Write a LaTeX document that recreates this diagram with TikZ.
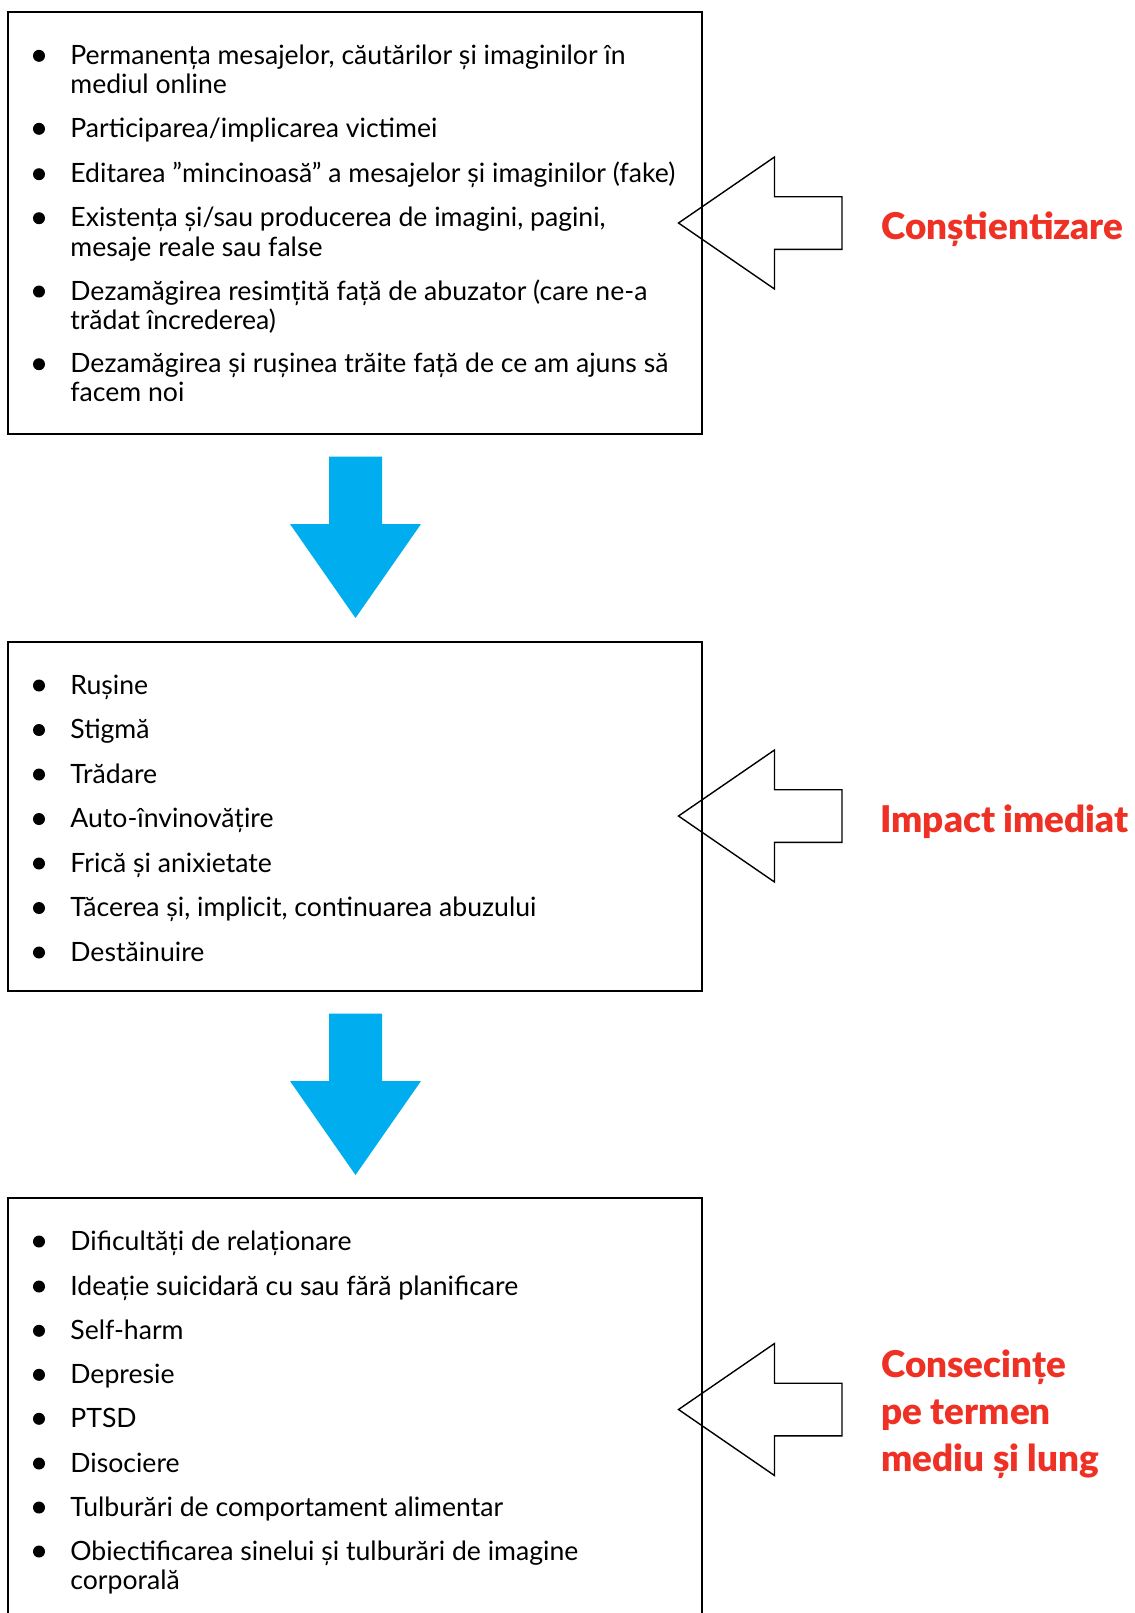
\documentclass[tikz,border=0pt]{standalone}
\usepackage{fontspec}
\setmainfont{Lato}
\IfFontExistsTF{Lato Black}
  {\newfontfamily\stagefont{Lato Black}\def\stagesize{18.4}}
  {\def\stagefont{\bfseries}\def\stagesize{19}}
\definecolor{titlered}{HTML}{EE3124}
\definecolor{arrowblue}{HTML}{00AEEF}

\begin{document}
\begin{tikzpicture}[x=0.5pt,y=-0.5pt,
  box/.style={line width=1.4pt},
  hollow/.style={line width=0.7pt, line join=miter},
  item/.style={anchor=base west, align=left, inner sep=0pt, font=\fontsize{13.3}{14.65}\selectfont},
  stagelabel/.style={anchor=base west, align=left, inner sep=0pt, text=titlered, font=\fontsize{\stagesize}{23.35}\selectfont\stagefont}]
\useasboundingbox (0,0) rectangle (1135,1613);

%box 1
\draw[box] (8,12) -- (702,12) -- (702,434) -- (8,434) -- cycle;
% Text Node (two-line items sit on their last line)
\fill (39,55.8) circle (6);
\draw (70,93.6) node[item] (c1) {Permanența mesajelor, căutărilor și imaginilor în\\mediul online};
\fill (39,128.8) circle (6);
\draw (70,137.3) node[item] (c2) {Participarea/implicarea victimei};
\fill (39,174.2) circle (6);
\draw (70,182.7) node[item] (c3) {Editarea ”mincinoasă” a mesajelor și imaginilor (fake)};
\fill (39,218.2) circle (6);
\draw (70,256) node[item] (c4) {Existența și/sau producerea de imagini, pagini,\\mesaje reale sau false};
\fill (39,291.5) circle (6);
\draw (70,329.3) node[item] (c5) {Dezamăgirea resimțită față de abuzator (care ne-a\\trădat încrederea)};
\fill (39,364.2) circle (6);
\draw (70,401.7) node[item] (c6) {Dezamăgirea și rușinea trăite față de ce am ajuns să\\facem noi};

%box 2
\draw[box] (8,642) -- (702,642) -- (702,991) -- (8,991) -- cycle;
% Text Node
\fill (39,685.5) circle (6);
\draw (70,694) node[item] (i1) {Rușine};
\fill (39,730) circle (6);
\draw (70,738.5) node[item] (i2) {Stigmă};
\fill (39,774.5) circle (6);
\draw (70,783) node[item] (i3) {Trădare};
\fill (39,819) circle (6);
\draw (70,827.5) node[item] (i4) {Auto-învinovățire};
\fill (39,863.5) circle (6);
\draw (70,872) node[item] (i5) {Frică și anixietate};
\fill (39,908) circle (6);
\draw (70,916.5) node[item] (i6) {Tăcerea și, implicit, continuarea abuzului};
\fill (39,952.5) circle (6);
\draw (70,961) node[item] (i7) {Destăinuire};

%box 3
\draw[box] (8,1625) -- (8,1198) -- (702,1198) -- (702,1625);
% Text Node
\fill (39,1241.5) circle (6);
\draw (70,1250) node[item] (m1) {Dificultăți de relaționare};
\fill (39,1286.5) circle (6);
\draw (70,1295) node[item] (m2) {Ideație suicidară cu sau fără planificare};
\fill (39,1330.8) circle (6);
\draw (70,1339.3) node[item] (m3) {Self-harm};
\fill (39,1374.8) circle (6);
\draw (70,1383.3) node[item] (m4) {Depresie};
\fill (39,1418.8) circle (6);
\draw (70,1427.3) node[item] (m5) {PTSD};
\fill (39,1463.5) circle (6);
\draw (70,1472) node[item] (m6) {Disociere};
\fill (39,1507.5) circle (6);
\draw (70,1516) node[item] (m7) {Tulburări de comportament alimentar};
\fill (39,1551.5) circle (6);
\draw (70,1589.3) node[item] (m8) {Obiectificarea sinelui și tulburări de imagine\\corporală};

%down arrows
\def\d{557}
\fill[arrowblue] (329,456.7) -- (382,456.7) -- (382,524) -- (421,524) -- (355.5,618) -- (290,524) -- (329,524) -- cycle;
\fill[arrowblue] (329,456.7+\d) -- (382,456.7+\d) -- (382,524+\d) -- (421,524+\d) -- (355.5,618+\d) -- (290,524+\d) -- (329,524+\d) -- cycle;

%side arrows
\def\t{223}
\draw[hollow] (678.5,\t) -- (774.5,\t-66) -- (774.5,\t-26.3) -- (842,\t-26.3) -- (842,\t+26.3) -- (774.5,\t+26.3) -- (774.5,\t+66) -- cycle;
\def\t{816}
\draw[hollow] (678.5,\t) -- (774.5,\t-66) -- (774.5,\t-26.3) -- (842,\t-26.3) -- (842,\t+26.3) -- (774.5,\t+26.3) -- (774.5,\t+66) -- cycle;
\def\t{1409.5}
\draw[hollow] (678.5,\t) -- (774.5,\t-66) -- (774.5,\t-26.3) -- (842,\t-26.3) -- (842,\t+26.3) -- (774.5,\t+26.3) -- (774.5,\t+66) -- cycle;

% Text Node
\draw (881,239) node[stagelabel] (aware) {Conștientizare};
\draw (880,832) node[stagelabel] (impact) {Impact imediat};
\draw (881,1471) node[stagelabel] (conseq) {Consecințe\\pe termen\\mediu și lung};
\end{tikzpicture}
\end{document}
